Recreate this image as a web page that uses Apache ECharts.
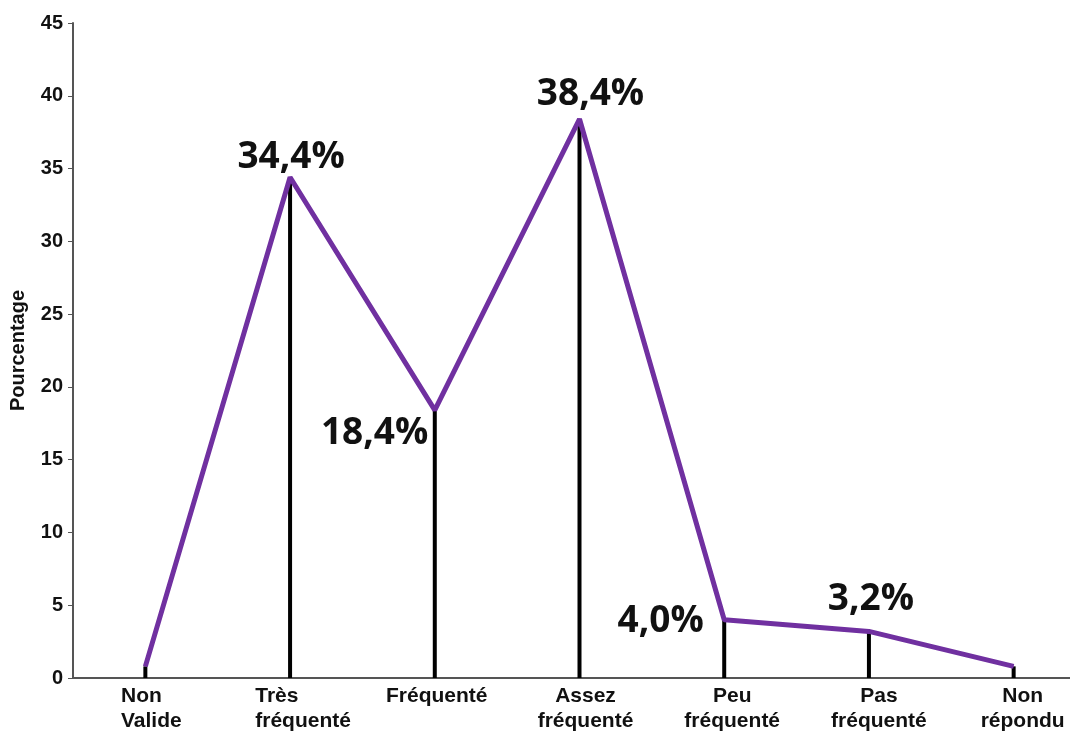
<!DOCTYPE html>
<html>
<head>
<meta charset="utf-8">
<script src="https://cdn.jsdelivr.net/npm/echarts@6/dist/echarts.min.js"></script>
<style>
  html, body { margin: 0; padding: 0; background: #fff; }
  #chart { width: 1070px; height: 733px; }
</style>
</head>
<body>
<div id="chart"></div>
<script>
// Fréquentation : pourcentage des réponses par catégorie
const categories = ['Non\nValide', 'Très\nfréquenté', 'Fréquenté', 'Assez\nfréquenté', 'Peu\nfréquenté', 'Pas\nfréquenté', 'Non\nrépondu'];
const percentages = [0.8, 34.4, 18.4, 38.4, 4.0, 3.2, 0.8];
const labelled = [false, true, true, true, true, true, false];
const yTicks = { min: 0, max: 45, interval: 5 };

// placement of each value label around its point
const labelPlacement = [
  null,
  { position: 'top', distance: 1, offset: [1, 0] },
  { position: 'left', distance: 6, offset: [0, 23] },
  { position: 'top', distance: 6, offset: [11, 0] },
  { position: 'left', distance: 20, offset: [0, 2] },
  { position: 'top', distance: 13, offset: [2, 0] },
  null
];

// horizontal nudge (px) and line alignment of each category label
const catLabelShift = [6, 13, 2, 6, 8, 10, 9];
const catLabelAlign = ['left', 'left', 'center', 'center', 'center', 'center', 'center'];

const fmt = v => v.toFixed(1).replace('.', ',') + '%';

const lineData = percentages.map((v, i) => {
  if (!labelled[i]) return v;
  const p = labelPlacement[i];
  return {
    value: v,
    label: {
      show: true,
      position: p.position,
      distance: p.distance,
      offset: p.offset,
      formatter: fmt(v),
      fontFamily: 'Open Sans',
      fontWeight: 'bold',
      fontSize: 37,
      color: '#111'
    }
  };
});

const catRich = {};
catLabelShift.forEach((s, i) => {
  catRich['c' + i] = {
    align: catLabelAlign[i],
    padding: [0, 0, 0, s * 2],
    fontFamily: 'Liberation Sans',
    fontWeight: 'bold',
    fontSize: 21,
    lineHeight: 25,
    color: '#111'
  };
});

const chart = echarts.init(document.getElementById('chart'), null, { renderer: 'canvas' });
chart.setOption({
  backgroundColor: '#fff',
  animation: false,
  grid: { left: 73, width: 1013, top: 23, bottom: 55, containLabel: false, outerBoundsMode: 'none' },
  xAxis: {
    type: 'category',
    data: categories,
    boundaryGap: true,
    axisLine: { lineStyle: { color: '#555', width: 2 } },
    axisTick: { show: false },
    axisLabel: {
      interval: 0,
      margin: 6,
      hideOverlap: false,
      formatter: (val, idx) => val.split('\n').map(l => '{c' + idx + '|' + l + '}').join('\n'),
      rich: catRich
    }
  },
  yAxis: {
    type: 'value',
    min: yTicks.min,
    max: yTicks.max,
    interval: yTicks.interval,
    name: 'Pourcentage',
    nameLocation: 'middle',
    nameRotate: 90,
    nameGap: 45,
    nameTextStyle: { color: '#111', fontFamily: 'Liberation Sans', fontWeight: 'bold', fontSize: 20 },
    splitLine: { show: false },
    axisLine: { show: true, lineStyle: { color: '#555', width: 2 } },
    axisTick: { show: true, length: 5, lineStyle: { color: '#555', width: 1 } },
    axisLabel: {
      color: '#111',
      fontFamily: 'Liberation Sans',
      fontWeight: 'bold',
      fontSize: 20,
      margin: 10
    }
  },
  series: [
    {
      type: 'bar',
      data: percentages,
      barWidth: 4,
      itemStyle: { color: '#000' },
      z: 2,
      silent: true
    },
    {
      type: 'line',
      data: lineData,
      symbol: 'circle',
      symbolSize: 1,
      itemStyle: { color: '#7030A0' },
      lineStyle: { color: '#7030A0', width: 5 },
      z: 3
    }
  ]
});
</script>
</body>
</html>
